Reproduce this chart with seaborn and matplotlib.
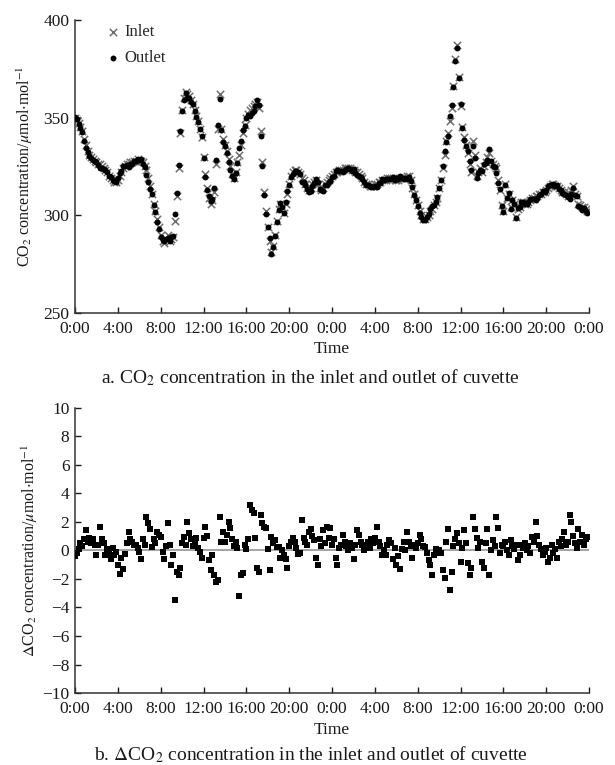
import numpy as np
import pandas as pd
import matplotlib
matplotlib.use('Agg')
import matplotlib.pyplot as plt
import seaborn as sns

# CO2 at the cuvette inlet, 10 min readings, one row per hour (umol/mol)
inlet = [
    350, 349, 347, 345, 343, 339,
    336, 333, 331, 330, 329, 328,
    327, 326, 326, 325, 324, 323,
    322, 320, 319, 318, 317, 317,
    318, 320, 322, 324, 325, 326,
    326, 327, 327, 328, 328, 329,
    328, 328, 327, 325, 323, 319,
    315, 311, 306, 302, 298, 294,
    290, 287, 286, 288, 290, 287,
    288, 289, 297, 310, 324, 342,
    354, 360, 363, 362, 361, 359,
    357, 354, 351, 348, 344, 340,
    330, 321, 314, 309, 306, 308,
    312, 326, 344, 362, 344, 339,
    336, 333, 329, 325, 321, 319,
    322, 327, 331, 336, 342, 346,
    350, 352, 354, 355, 356, 357,
    358, 355, 343, 327, 312, 302,
    294, 287, 281, 284, 290, 297,
    303, 306, 304, 301, 306, 311,
    316, 320, 322, 323, 323, 322,
    321, 319, 318, 316, 314, 313,
    314, 316, 317, 318, 316, 314,
    313, 314, 316, 317, 318, 319,
    320, 321, 322, 322, 323, 323,
    323, 324, 324, 324, 324, 323,
    323, 322, 322, 321, 320, 319,
    317, 316, 316, 315, 315, 315,
    316, 316, 317, 317, 318, 318,
    318, 319, 319, 319, 319, 318,
    318, 318, 319, 319, 319, 319,
    320, 320, 318, 314, 311, 308,
    305, 302, 300, 298, 298, 299,
    300, 302, 303, 305, 307, 309,
    314, 318, 324, 331, 338, 342,
    348, 355, 366, 380, 387, 371,
    356, 345, 340, 336, 332, 326,
    322, 338, 331, 320, 322, 324,
    322, 325, 327, 330, 332, 328,
    326, 325, 324, 318, 313, 305,
    302, 316, 309, 311, 304, 308,
    306, 299, 303, 304, 307, 307,
    306, 306, 307, 308, 309, 309,
    310, 310, 311, 311, 312, 312,
    313, 314, 315, 316, 316, 315,
    315, 314, 313, 312, 312, 311,
    310, 311, 313, 315, 311, 310,
    306, 305, 304, 304, 303, 302,
]

# inlet minus outlet, same 10 min readings
delta = [
    -0.4, -0.2, 0.1, 0.5, 0.3, 0.8,
    1.4, 0.6, 0.9, 0.5, 0.8, 0.35,
    -0.35, 0.4, 1.65, 0.8, 0.5, -0.35,
    0.1, -0.2, -0.6, 0.2, -0.35, -0.1,
    -1.05, -1.65, -0.5, -1.3, -0.25, 0.5,
    1.3, 0.8, 0.6, 0.4, 0.35, 0.2,
    -0.1, -0.6, 0.8, 0.4, 2.35, 1.9,
    1.5, 0.25, 0.8, 0.5, 1.3, 1.1,
    0.95, -0.1, -0.6, 0.3, 1.9, 0.4,
    -1.05, -0.3, -3.5, -1.5, -1.75, -1.2,
    0.5, 0.95, 0.4, 2.0, 1.2, 0.8,
    0.3, 0.6, 0.9, 0.2, -0.1, -0.5,
    0.9, 1.65, 1.0, -0.7, -1.4, -0.3,
    -1.75, -2.2, -2.1, 2.35, 0.6, 1.3,
    0.6, 1.1, 2.0, 1.6, 0.8, 0.3,
    0.6, 0.2, -3.2, -1.75, -1.6, 0.4,
    0.1, 0.8, 3.2, 2.8, 2.6, 0.9,
    -1.2, -1.5, 2.5, 1.9, 1.65, 1.6,
    0.1, -1.4, 0.95, 0.5, 0.7, 0.25,
    0.25, -0.5, 0.0, -0.3, -0.6, -1.2,
    0.3, 0.6, 0.9, 0.6, 0.2, -0.25,
    -0.2, 2.1, 0.9, 0.6, 0.4, 1.3,
    1.5, 1.0, 0.7, -0.5, -1.05, 0.8,
    0.3, 1.4, 0.5, 1.65, 0.9, 1.6,
    0.35, 0.8, -0.5, -1.05, 0.2, 0.4,
    1.05, 0.6, 0.3, 0.0, 0.5, 0.2,
    -0.6, 0.4, 1.4, 1.1, 0.6, 0.35,
    0.0, 0.3, 0.6, 0.2, 0.8, 0.5,
    0.9, 1.65, 0.6, 0.3, -0.3, 0.0,
    -0.3, 0.4, 0.7, 0.5, -0.6, 0.2,
    -1.05, -0.4, -1.3, 0.1, 0.6, 0.0,
    1.3, 0.6, 0.3, -0.5, 0.4, 0.2,
    0.5, 1.05, 0.8, 0.3, 0.25, -0.2,
    -0.7, -1.0, -1.75, -0.3, 0.1, -0.2,
    0.0, -0.2, -1.4, -1.9, 0.6, 1.5,
    -2.8, -1.5, 0.3, 0.8, 1.2, 0.5,
    -0.8, 0.2, 1.4, 0.5, -0.9, -1.75,
    -1.2, 2.35, 1.5, 0.9, 0.2, 0.6,
    -0.8, -1.2, 0.5, 1.5, -1.75, 0.0,
    0.7, 0.3, 2.35, 1.6, -0.2, 0.4,
    0.3, 0.6, 0.0, -0.3, 0.7, 0.3,
    0.1, 0.4, -0.7, -0.3, 0.4, 0.2,
    0.5, 0.0, 0.3, -0.2, 0.95, 0.6,
    2.0, 1.0, 0.4, 0.1, -0.35, -0.1,
    0.2, -0.8, -0.5, 0.4, -0.2, 0.1,
    -0.5, 0.6, 0.3, 0.8, 1.3, 0.4,
    0.6, 2.5, 2.0, 1.0, 0.5, 0.2,
    1.5, 0.6, 1.1, 0.4, 0.8, 0.95,
]

tick_hours = [0, 4, 8, 12, 16, 20, 24, 28, 32, 36, 40, 44, 48]
tick_labels = ['0:00', '4:00', '8:00', '12:00', '16:00', '20:00', '0:00',
               '4:00', '8:00', '12:00', '16:00', '20:00', '0:00']

stamps = pd.date_range('2000-01-01 00:00', periods=len(inlet), freq='10min')
df = pd.DataFrame({
    'hours': (stamps - stamps[0]) / pd.Timedelta(hours=1),
    'inlet': inlet,
    'delta': delta,
})
df['outlet'] = df['inlet'] - df['delta']

sns.set_theme(style='ticks')
plt.rcParams['font.family'] = ['Liberation Serif', 'DejaVu Serif']
plt.rcParams['mathtext.fontset'] = 'stix'
ink = '#1a1a1a'

fig = plt.figure(figsize=(6.15, 7.65), dpi=100)
ax1 = fig.add_axes([0.122, 0.591, 0.836, 0.383])
ax2 = fig.add_axes([0.122, 0.094, 0.836, 0.373])

# a. inlet / outlet concentration
sns.scatterplot(data=df, x='hours', y='inlet', ax=ax1, marker='x', s=28,
                color='#6e6e6e', linewidth=1.1, label='Inlet', zorder=2)
sns.scatterplot(data=df, x='hours', y='outlet', ax=ax1, marker='o', s=18,
                color='black', edgecolor='black', linewidth=0, label='Outlet', zorder=3)
ax1.set_ylim(250, 400)
ax1.set_yticks([250, 300, 350, 400])
ax1.set_ylabel(r'CO$_2$ concentration/$\mu$mol$\cdot$mol$^{-1}$', fontsize=11.5, color=ink)
ax1.yaxis.set_label_coords(-0.077, 0.5)
ax1.legend(loc='upper left', bbox_to_anchor=(0.035, 1.02), frameon=False,
           fontsize=12, handletextpad=0.1, handlelength=1.2, labelspacing=0.6,
           borderaxespad=0.2)

# b. difference
ax2.axhline(0, color='#8c8c8c', linewidth=1.1, zorder=1)
sns.scatterplot(data=df, x='hours', y='delta', ax=ax2, marker='s', s=15,
                color='black', edgecolor='black', linewidth=0, zorder=3, legend=False)
ax2.set_ylim(-10, 10)
ax2.set_yticks(range(-10, 11, 2))
ax2.set_ylabel(r'$\Delta$CO$_2$ concentration/$\mu$mol$\cdot$mol$^{-1}$', fontsize=11.5, color=ink)
ax2.yaxis.set_label_coords(-0.068, 0.5)

for ax in (ax1, ax2):
    ax.set_xlim(0, 48)
    ax.set_xticks(tick_hours)
    ax.set_xticklabels(tick_labels)
    ax.set_xlabel('Time', fontsize=12.5, color=ink, labelpad=3)
    ax.tick_params(direction='in', length=4, width=1, labelsize=12.5,
                   colors=ink)
    ax.tick_params(axis='x', pad=6)
    ax.tick_params(axis='y', pad=4)
    sns.despine(ax=ax)
    for side in ('left', 'bottom'):
        ax.spines[side].set_color('#333333')
        ax.spines[side].set_linewidth(1.1)

fig.text(0.505, 0.506, r'a. CO$_2$ concentration in the inlet and outlet of cuvette',
         ha='center', va='center', fontsize=14, color=ink)
fig.text(0.505, 0.014, r'b. $\Delta$CO$_2$ concentration in the inlet and outlet of cuvette',
         ha='center', va='center', fontsize=14, color=ink)

fig.savefig('out.png', dpi=100)
